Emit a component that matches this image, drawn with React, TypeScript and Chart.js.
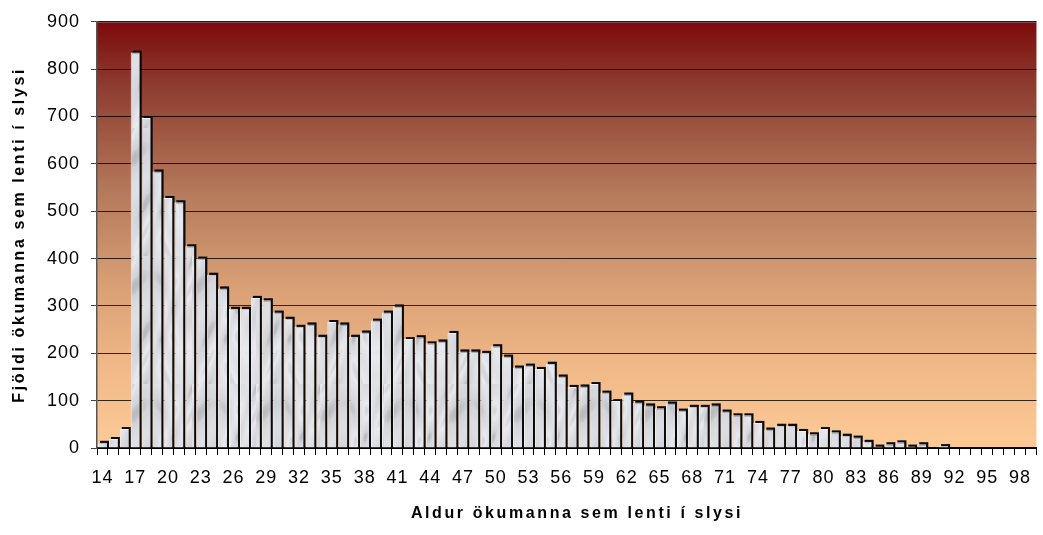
import React, { useEffect, useRef } from "react";
import { Chart, registerables } from "chart.js";

Chart.register(...registerables);

// ---- data ----
const AGES: string[] = [
  "14", "15", "16", "17", "18", "19", "20", "21", "22", "23", "24", "25", "26", "27", "28", "29",
  "30", "31", "32", "33", "34", "35", "36", "37", "38", "39", "40", "41", "42", "43", "44", "45",
  "46", "47", "48", "49", "50", "51", "52", "53", "54", "55", "56", "57", "58", "59", "60", "61",
  "62", "63", "64", "65", "66", "67", "68", "69", "70", "71", "72", "73", "74", "75", "76", "77",
  "78", "79", "80", "81", "82", "83", "84", "85", "86", "87", "88", "89", "90", "91", "92", "93",
  "94", "95", "96", "97", "98", "99",
];

const COUNTS: number[] = [
  11, 19, 40, 835, 697, 584, 528, 519, 426, 400, 366, 337, 294, 294, 317, 312,
  286, 273, 256, 261, 235, 266, 261, 235, 244, 269, 286, 299, 230, 234, 221, 225,
  243, 204, 204, 201, 215, 193, 170, 174, 167, 178, 151, 129, 130, 135, 117, 99,
  113, 96, 90, 84, 94, 79, 87, 87, 90, 77, 69, 69, 53, 39, 47, 47,
  36, 29, 40, 33, 26, 22, 13, 3, 8, 12, 3, 8, 0, 4, 0, 0,
  0, 0, 0, 0, 0, 0,
];

const Y_TICKS = { min: 0, max: 900, step: 100 };
const X_LABEL_EVERY = 3;

const X_TITLE = "Aldur ökumanna sem lenti í slysi";
const Y_TITLE = "Fjöldi ökumanna sem lenti í slysi";

const FONT = '"Liberation Sans", Arial, sans-serif';

function makeMarble(): CanvasPattern | string {
  const c = document.createElement("canvas");
  c.width = 64;
  c.height = 128;
  const g = c.getContext("2d");
  if (!g) return "#dcdde1";
  const img = g.createImageData(64, 128);
  for (let y = 0; y < 128; y++) {
    for (let x = 0; x < 64; x++) {
      const t = Math.sin(x * 0.18 + y * 0.05 + 2.2 * Math.sin(y * 0.045 + x * 0.09));
      const t2 = Math.sin(x * 0.07 - y * 0.11 + 1.7 * Math.cos(x * 0.12));
      let v = 222 + 8 * t + 6 * t2 - 45 * Math.max(0, t * t2 - 0.5);
      v = Math.max(170, Math.min(242, v));
      const i = (y * 64 + x) * 4;
      img.data[i] = v;
      img.data[i + 1] = v + 1;
      img.data[i + 2] = Math.min(255, v + 6);
      img.data[i + 3] = 255;
    }
  }
  g.putImageData(img, 0, 0);
  const p = g.createPattern(c, "repeat");
  return p || "#dcdde1";
}

const backgroundPlugin = {
  id: "plotBackground",
  beforeDraw(chart: any) {
    const { ctx, chartArea } = chart;
    if (!chartArea) return;
    const grad = ctx.createLinearGradient(0, chartArea.top, 0, chartArea.bottom);
    grad.addColorStop(0, "#7c0a0c");
    grad.addColorStop(0.15, "#8e3c2f");
    grad.addColorStop(0.4, "#b47a5b");
    grad.addColorStop(0.62, "#d99f75");
    grad.addColorStop(0.82, "#f1ba88");
    grad.addColorStop(1, "#fdca96");
    ctx.save();
    ctx.fillStyle = grad;
    ctx.fillRect(chartArea.left, chartArea.top, chartArea.right - chartArea.left, chartArea.bottom - chartArea.top);
    ctx.strokeStyle = "#8a8a8a";
    ctx.lineWidth = 1.5;
    ctx.beginPath();
    ctx.moveTo(chartArea.left, chartArea.top);
    ctx.lineTo(chartArea.right, chartArea.top);
    ctx.stroke();
    ctx.restore();
    (ctx as any).letterSpacing = "1px";
  },
};

const shadowPlugin = {
  id: "barShadow",
  beforeDatasetsDraw(chart: any) {
    const { ctx, chartArea } = chart;
    const meta = chart.getDatasetMeta(0);
    const values = chart.data.datasets[0].data as number[];
    ctx.save();
    ctx.beginPath();
    ctx.rect(chartArea.left, chartArea.top - 4, chartArea.right - chartArea.left + 4, chartArea.bottom - chartArea.top + 4);
    ctx.clip();
    ctx.fillStyle = "#0a0a0a";
    meta.data.forEach((el: any, i: number) => {
      if (!values[i]) return;
      const { x, y, base, width } = el.getProps(["x", "y", "base", "width"], true);
      ctx.fillRect(x - width / 2 + 2, y - 2, width, base - y + 2);
    });
    ctx.restore();
  },
};

const titlePlugin = {
  id: "axisTitles",
  afterDraw(chart: any) {
    const { ctx, chartArea } = chart;
    ctx.save();
    ctx.font = `bold 16px ${FONT}`;
    (ctx as any).letterSpacing = "2.6px";
    ctx.fillStyle = "#000";
    ctx.textAlign = "center";
    ctx.textBaseline = "middle";
    ctx.fillText(X_TITLE, 577, 514);
    ctx.translate(20, (chartArea.top + chartArea.bottom) / 2);
    ctx.rotate(-Math.PI / 2);
    ctx.fillText(Y_TITLE, 0, 0);
    ctx.restore();
  },
};

export default function App() {
  const canvasRef = useRef<HTMLCanvasElement | null>(null);

  useEffect(() => {
    const canvas = canvasRef.current;
    if (!canvas) return;
    const marble = makeMarble();
    const chart = new Chart(canvas, {
      type: "bar",
      data: {
        labels: AGES,
        datasets: [
          {
            data: COUNTS,
            backgroundColor: marble as any,
            borderColor: "#f2f2f4",
            borderWidth: { left: 1, top: 1, right: 0, bottom: 0 } as any,
            borderSkipped: false,
            barPercentage: 0.83,
            categoryPercentage: 1,
          },
        ],
      },
      options: {
        animation: false,
        responsive: true,
        maintainAspectRatio: false,
        layout: { padding: { left: 0, top: 21, right: 1, bottom: 0 } },
        plugins: {
          legend: { display: false },
          tooltip: { enabled: false },
          title: { display: false },
        },
        scales: {
          x: {
            offset: true,
            grid: {
              display: true,
              drawOnChartArea: false,
              drawTicks: true,
              tickLength: 7,
              color: "#000",
              lineWidth: 1,
              offset: true,
            },
            border: { display: true, color: "#000", width: 2 },
            ticks: {
              autoSkip: false,
              maxRotation: 0,
              minRotation: 0,
              padding: 12,
              color: "#000",
              font: { family: FONT, size: 18 },
              callback: (_v: any, index: number) => (index % X_LABEL_EVERY === 0 ? AGES[index] : ""),
            },
            afterFit: (scale: any) => {
              scale.height = 87;
            },
          },
          y: {
            min: Y_TICKS.min,
            max: Y_TICKS.max,
            grid: {
              color: "rgba(0,0,0,0.8)",
              lineWidth: 1,
              drawTicks: true,
              tickLength: 6,
              tickColor: "#444",
            },
            border: { display: true, color: "#555", width: 1.5 },
            ticks: {
              stepSize: Y_TICKS.step,
              padding: 11,
              color: "#000",
              font: { family: FONT, size: 18 },
            },
            afterFit: (scale: any) => {
              scale.width = 97;
            },
          },
        },
      },
      plugins: [backgroundPlugin, shadowPlugin, titlePlugin],
    });
    return () => chart.destroy();
  }, []);

  return (
    <div style={{ position: "fixed", left: 0, top: 0, width: 1043, height: 535, background: "#fff" }}>
      <canvas ref={canvasRef} />
    </div>
  );
}
